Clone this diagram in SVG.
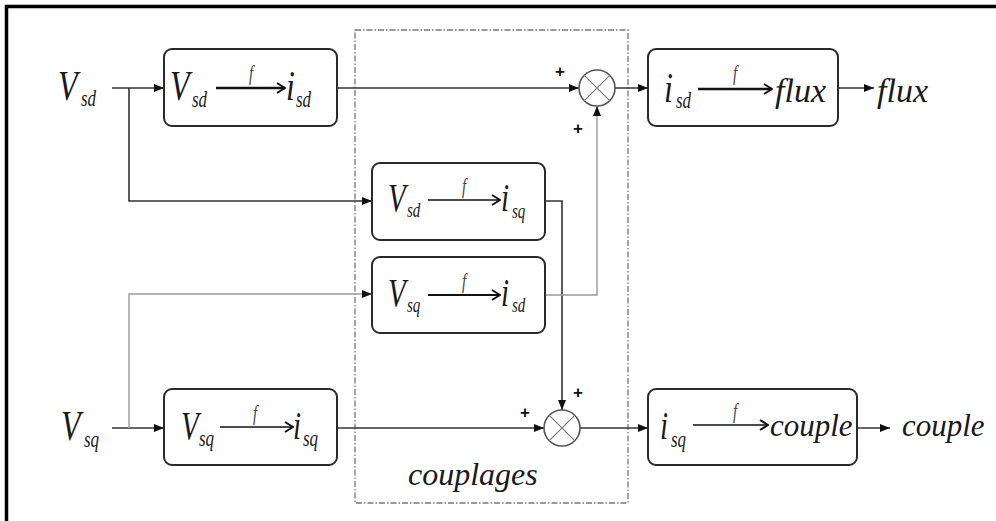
<svg xmlns="http://www.w3.org/2000/svg" width="996" height="521" viewBox="0 0 996 521">
  <style>
    .blk { fill: #ffffff; stroke: #2a2a2a; stroke-width: 2; }
    .sum { fill: #ffffff; stroke: #555555; stroke-width: 1.6; }
    .cross { stroke: #777777; stroke-width: 1.2; }
    .wire { fill: none; stroke: #333333; stroke-width: 1.6; }
    .wire-lt { fill: none; stroke: #9a9a9a; stroke-width: 1.4; }
    .fn { fill: none; stroke: #111111; }
    .m { font-family: 'Liberation Serif', 'Times New Roman', Times, 'DejaVu Serif', serif; font-style: italic; fill: #1a1a1a; }
    .big { font-size: 32px; }
    .mid { font-size: 29px; }
    .sub { font-size: 17px; }
    .subs { font-size: 15px; }
    .f { font-size: 15px; fill: #444444; }
    .word { font-size: 34px; }
    .plus { font-family: 'Liberation Sans', Arial, sans-serif; font-weight: bold; font-size: 17px; fill: #111111; text-anchor: middle; }
  </style>
  <defs>
    <marker id="arr" viewBox="0 0 10 8" refX="10" refY="4" markerWidth="10" markerHeight="8" markerUnits="userSpaceOnUse" orient="auto">
      <path d="M0,0 L10,4 L0,8 z" fill="#111111"/>
    </marker>
    <marker id="chev" viewBox="0 0 10 12" refX="9" refY="6" markerWidth="10" markerHeight="12" markerUnits="userSpaceOnUse" orient="auto">
      <path d="M1,1 L9,6 L1,11" fill="none" stroke="#111111" stroke-width="2"/>
    </marker>
  </defs>

  <rect width="996" height="521" fill="#ffffff"/>

  <!-- outer frame (top and left edges) -->
  <path d="M6.5,521 V6.5 H996" fill="none" stroke="#000000" stroke-width="3.5"/>

  <!-- coupling region -->
  <g id="couplages">
    <rect x="355" y="30" width="273" height="473" fill="none" stroke="#777777" stroke-width="1.3" stroke-dasharray="6,2,1.5,2"/>
    <text class="m" x="408" y="485" font-size="32">couplages</text>
  </g>

  <!-- connectors -->
  <g id="connectors">
    <path class="wire" d="M112,88 H164" marker-end="url(#arr)"/>
    <path class="wire" d="M129,88 V201 H372" marker-end="url(#arr)"/>
    <path class="wire" d="M337,88 H579" marker-end="url(#arr)"/>
    <path class="wire" d="M615,88 H648" marker-end="url(#arr)"/>
    <path class="wire" d="M838,88 H874" marker-end="url(#arr)"/>
    <path class="wire" d="M545,201 H562 V410" marker-end="url(#arr)"/>
    <path class="wire-lt" d="M545,295 H597 V106" marker-end="url(#arr)"/>
    <path class="wire" d="M112,428 H164" marker-end="url(#arr)"/>
    <path class="wire-lt" d="M129,428 V294 H372" marker-end="url(#arr)"/>
    <path class="wire" d="M337,428 H544" marker-end="url(#arr)"/>
    <path class="wire" d="M580,428 H648" marker-end="url(#arr)"/>
    <path class="wire" d="M857,428 H890" marker-end="url(#arr)"/>
    <text class="plus" x="560" y="77">+</text>
    <text class="plus" x="578" y="134">+</text>
    <text class="plus" x="578" y="398">+</text>
    <text class="plus" x="525" y="418">+</text>
  </g>

  <!-- inputs and outputs (math symbols drawn with a tall 1.35 aspect) -->
  <g id="in-vsd">
    <text class="m big" x="58" y="100" transform="matrix(1 0 0 1.35 0 -35)">V</text>
    <text class="m sub" x="81" y="106" transform="matrix(1 0 0 1.35 0 -37.1)">sd</text>
  </g>
  <g id="in-vsq">
    <text class="m big" x="61" y="440" transform="matrix(1 0 0 1.35 0 -154)">V</text>
    <text class="m sub" x="84" y="447" transform="matrix(1 0 0 1.35 0 -156.45)">sq</text>
  </g>
  <g id="out-flux">
    <text class="m word" x="877" y="102">flux</text>
  </g>
  <g id="out-couple">
    <text class="m" x="902" y="436" font-size="31">couple</text>
  </g>

  <!-- Vsd -> isd -->
  <g id="blk-vsd-isd">
    <rect class="blk" x="164" y="49" width="173" height="77" rx="8"/>
    <text class="m big" x="170" y="100" transform="matrix(1 0 0 1.35 0 -35)">V</text>
    <text class="m sub" x="192" y="107" transform="matrix(1 0 0 1.35 0 -37.45)">sd</text>
    <line class="fn" x1="216" y1="88" x2="285" y2="88" stroke-width="2.5" marker-end="url(#chev)"/>
    <text class="m f" x="249" y="80" transform="matrix(1 0 0 1.35 0 -28)">f</text>
    <text class="m big" x="286" y="100" transform="matrix(1 0 0 1.35 0 -35)">i</text>
    <text class="m sub" x="296" y="107" transform="matrix(1 0 0 1.35 0 -37.45)">sd</text>
  </g>

  <!-- isd -> flux -->
  <g id="blk-flux">
    <rect class="blk" x="648" y="49" width="190" height="77" rx="8"/>
    <text class="m big" x="664" y="102" transform="matrix(1 0 0 1.35 0 -35.7)">i</text>
    <text class="m sub" x="676" y="108" transform="matrix(1 0 0 1.35 0 -37.8)">sd</text>
    <line class="fn" x1="698" y1="89" x2="772" y2="89" stroke-width="2.5" marker-end="url(#chev)"/>
    <text class="m f" x="733" y="80" transform="matrix(1 0 0 1.35 0 -28)">f</text>
    <text class="m word" x="775" y="102">flux</text>
  </g>

  <!-- coupling Vsd -> isq -->
  <g id="blk-vsd-isq">
    <rect class="blk" x="372" y="163" width="173" height="77" rx="8"/>
    <text class="m mid" x="388" y="211" transform="matrix(1 0 0 1.35 0 -73.85)">V</text>
    <text class="m subs" x="407" y="217" transform="matrix(1 0 0 1.35 0 -75.95)">sd</text>
    <line class="fn" x1="428" y1="200" x2="500" y2="200" stroke-width="1.5" marker-end="url(#chev)"/>
    <text class="m f" x="462" y="193" transform="matrix(1 0 0 1.35 0 -67.55)">f</text>
    <text class="m mid" x="501" y="211" transform="matrix(1 0 0 1.35 0 -73.85)">i</text>
    <text class="m subs" x="512" y="218" transform="matrix(1 0 0 1.35 0 -76.3)">sq</text>
  </g>

  <!-- coupling Vsq -> isd -->
  <g id="blk-vsq-isd">
    <rect class="blk" x="372" y="257" width="173" height="76" rx="8"/>
    <text class="m mid" x="388" y="306" transform="matrix(1 0 0 1.35 0 -107.1)">V</text>
    <text class="m subs" x="407" y="312" transform="matrix(1 0 0 1.35 0 -109.2)">sq</text>
    <line class="fn" x1="428" y1="295" x2="500" y2="295" stroke-width="2.2" marker-end="url(#chev)"/>
    <text class="m f" x="462" y="288" transform="matrix(1 0 0 1.35 0 -100.8)">f</text>
    <text class="m mid" x="501" y="306" transform="matrix(1 0 0 1.35 0 -107.1)">i</text>
    <text class="m subs" x="512" y="312" transform="matrix(1 0 0 1.35 0 -109.2)">sd</text>
  </g>

  <!-- Vsq -> isq -->
  <g id="blk-vsq-isq">
    <rect class="blk" x="164" y="389" width="173" height="76" rx="8"/>
    <text class="m mid" x="181" y="439" transform="matrix(1 0 0 1.35 0 -153.65)">V</text>
    <text class="m sub" x="199" y="446" transform="matrix(1 0 0 1.35 0 -156.1)">sq</text>
    <line class="fn" x1="220" y1="427" x2="293" y2="427" stroke-width="1.6" marker-end="url(#chev)"/>
    <text class="m f" x="253" y="420" transform="matrix(1 0 0 1.35 0 -147)">f</text>
    <text class="m mid" x="293" y="439" transform="matrix(1 0 0 1.35 0 -153.65)">i</text>
    <text class="m sub" x="303" y="446" transform="matrix(1 0 0 1.35 0 -156.1)">sq</text>
  </g>

  <!-- isq -> couple -->
  <g id="blk-couple">
    <rect class="blk" x="648" y="389" width="209" height="76" rx="8"/>
    <text class="m mid" x="660" y="439" transform="matrix(1 0 0 1.35 0 -153.65)">i</text>
    <text class="m sub" x="671" y="447" transform="matrix(1 0 0 1.35 0 -156.45)">sq</text>
    <line class="fn" x1="693" y1="425" x2="768" y2="425" stroke-width="1.5" marker-end="url(#chev)"/>
    <text class="m f" x="733" y="418" transform="matrix(1 0 0 1.35 0 -146.3)">f</text>
    <text class="m" x="770" y="436" font-size="31">couple</text>
  </g>

  <!-- summing junctions -->
  <g id="sum-flux">
    <circle class="sum" cx="597" cy="88" r="18"/>
    <path class="cross" d="M584.3,75.3 L609.7,100.7 M609.7,75.3 L584.3,100.7"/>
  </g>
  <g id="sum-couple">
    <circle class="sum" cx="562" cy="428" r="18"/>
    <path class="cross" d="M549.3,415.3 L574.7,440.7 M574.7,415.3 L549.3,440.7"/>
  </g>
</svg>
